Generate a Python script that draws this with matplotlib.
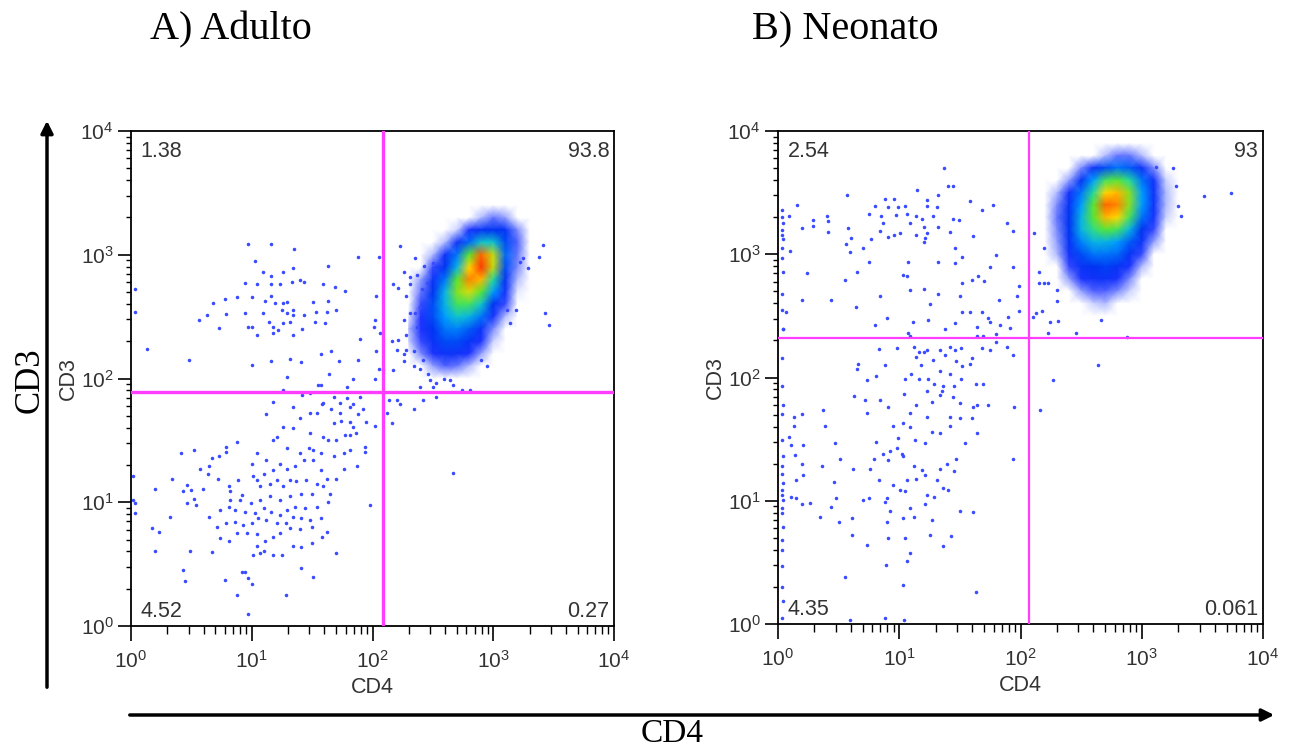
import numpy as np
import matplotlib
matplotlib.use('Agg')
import matplotlib.pyplot as plt
from matplotlib.colors import LinearSegmentedColormap
from matplotlib.patches import FancyArrowPatch

plt.rcParams['font.family'] = ['Liberation Sans', 'DejaVu Sans']

# ---------------- data ----------------
panel_titles = ['A) Adulto', 'B) Neonato']
axis_x_label = 'CD4'
axis_y_label = 'CD3'
# quadrant percentages: upper-left, upper-right, lower-left, lower-right
pct_adult = ['1.38', '93.8', '4.52', '0.27']
pct_neonate = ['2.54', '93', '4.35', '0.061']
# quadrant gates (CD4, CD3)
gate_adult = (122, 78)
gate_neonate = (117, 209)

# sparse events (log10 CD4, log10 CD3)
adult_events = [
    (0.97, 3.09), (1.16, 3.09), (1.35, 3.05), (1.03, 2.95), (1.34, 2.89), (1.63, 2.91), (1.88, 2.98), (2.05, 2.98),
    (1.09, 2.86), (1.16, 2.83), (1.26, 2.86), (0.94, 2.77), (1.04, 2.76), (1.16, 2.76), (1.23, 2.76), (1.33, 2.78),
    (1.40, 2.80), (1.43, 2.78), (1.59, 2.76), (1.69, 2.74), (1.77, 2.71), (0.88, 2.66), (1.00, 2.66), (1.11, 2.63),
    (1.16, 2.67), (1.19, 2.61), (1.26, 2.61), (1.29, 2.62), (1.51, 2.62), (1.63, 2.63), (0.68, 2.61), (0.78, 2.64),
    (0.94, 2.53), (1.09, 2.53), (1.25, 2.55), (1.29, 2.53), (1.34, 2.51), (1.34, 2.55), (1.43, 2.51), (1.53, 2.54),
    (1.62, 2.54), (1.70, 2.55), (0.56, 2.47), (0.63, 2.51), (0.79, 2.52), (0.73, 2.41), (0.97, 2.42), (1.00, 2.42),
    (1.14, 2.46), (1.18, 2.42), (1.22, 2.39), (1.26, 2.45), (1.32, 2.46), (1.42, 2.40), (1.52, 2.46), (1.61, 2.45),
    (1.04, 2.35), (1.18, 2.37), (1.34, 2.35), (0.13, 2.24), (0.48, 2.15), (1.00, 2.11), (1.16, 2.14), (1.32, 2.16),
    (1.41, 2.13), (1.57, 2.20), (1.66, 2.22), (1.72, 2.14), (1.88, 2.15), (2.02, 2.47), (2.01, 2.42), (1.90, 2.32),
    (2.06, 2.37), (2.03, 2.22), (2.05, 2.08), (2.09, 2.07), (2.02, 2.00), (1.84, 2.00), (1.79, 1.93), (1.64, 2.04),
    (1.55, 1.95), (1.29, 2.01), (1.26, 1.91), (2.03, 2.67),
    (2.23, 3.07), (2.35, 2.97), (2.43, 2.91), (2.50, 2.93), (2.26, 2.86), (2.31, 2.82), (2.37, 2.84), (2.31, 2.76),
    (2.17, 2.76), (2.21, 2.73), (2.28, 2.67), (2.41, 2.72), (2.45, 2.77), (2.31, 2.53), (2.26, 2.47), (2.35, 2.53),
    (2.39, 2.58), (2.37, 2.42), (2.28, 2.35), (2.21, 2.31), (2.16, 2.30), (2.20, 2.23), (2.26, 2.20), (2.28, 2.23),
    (2.34, 2.22), (2.26, 2.14), (2.17, 2.07), (2.34, 2.10), (2.39, 2.08), (2.42, 2.15), (2.48, 1.99), (2.53, 1.96),
    (2.59, 2.00), (2.64, 1.99), (2.67, 1.95), (2.74, 1.91), (2.53, 1.85), (2.42, 1.83), (2.34, 1.75), (2.23, 1.79),
    (2.20, 1.83), (2.14, 1.83), (2.12, 1.72), (2.16, 1.64), (2.50, 1.93), (2.39, 1.93), (2.46, 2.04), (2.67, 1.24),
    (3.41, 3.08), (3.38, 2.98), (3.29, 2.89), (3.43, 2.53), (3.46, 2.43), (3.25, 2.97), (3.22, 2.94), (3.14, 2.45),
    (3.19, 2.55), (3.11, 2.55), (2.95, 2.10), (2.90, 2.15), (2.81, 1.91),
    (1.42, 1.87), (1.48, 1.88), (1.57, 1.95), (1.68, 1.85), (1.59, 1.80), (1.34, 1.77), (1.18, 1.81), (1.12, 1.71),
    (1.40, 1.68), (1.48, 1.72), (1.54, 1.72), (1.58, 1.79), (1.66, 1.75), (1.73, 1.80), (1.79, 1.84), (1.81, 1.77),
    (1.84, 1.79), (1.90, 1.85), (1.92, 1.75), (1.88, 1.71), (1.73, 1.72), (1.68, 1.64), (1.74, 1.66), (1.81, 1.65),
    (1.84, 1.61), (1.95, 1.65), (2.02, 1.62), (1.86, 1.56), (1.81, 1.54), (1.77, 1.54), (1.70, 1.50), (1.63, 1.50),
    (1.59, 1.53), (1.48, 1.56), (1.47, 1.44), (1.34, 1.60), (1.26, 1.61), (1.21, 1.53), (1.18, 1.50), (1.29, 1.44),
    (1.40, 1.40), (1.51, 1.42), (1.57, 1.40), (1.68, 1.37), (1.76, 1.40), (1.81, 1.42), (1.94, 1.45), (1.94, 1.41),
    (1.76, 1.27), (1.87, 1.29), (1.70, 1.19), (1.62, 1.19), (1.57, 1.26), (1.51, 1.34), (1.43, 1.34), (1.36, 1.29),
    (1.29, 1.27), (1.23, 1.31), (1.18, 1.26), (1.12, 1.34), (1.04, 1.40), (1.00, 1.31), (0.88, 1.49), (0.79, 1.45),
    (0.79, 1.41), (0.67, 1.36), (0.73, 1.37), (0.52, 1.42), (0.41, 1.40), (0.64, 1.23), (0.57, 1.27), (0.65, 1.29),
    (0.34, 1.19), (0.20, 1.11), (0.46, 1.14), (0.43, 1.09), (0.50, 1.10), (0.60, 1.11), (0.72, 1.19), (0.81, 1.13),
    (0.82, 1.09), (0.89, 1.18), (0.92, 1.06), (1.01, 1.21), (1.04, 1.18), (1.07, 1.13), (1.10, 1.23), (1.15, 1.15),
    (1.21, 1.18), (1.26, 1.13), (1.32, 1.18), (1.37, 1.17), (1.45, 1.18), (1.54, 1.15), (1.59, 1.13), (1.65, 1.07),
    (1.50, 1.07), (1.41, 1.07), (1.32, 1.05), (1.23, 1.02), (1.15, 1.05), (1.07, 1.02), (0.99, 0.99), (0.90, 1.02),
    (0.82, 1.02), (0.74, 0.94), (0.81, 0.96), (0.86, 0.94), (0.94, 0.92), (1.03, 0.91), (1.10, 0.95), (1.16, 0.92),
    (1.23, 0.90), (1.29, 0.94), (1.36, 0.96), (1.44, 0.95), (1.54, 0.96), (1.63, 1.00), (1.98, 0.98), (1.57, 0.87),
    (1.48, 0.86), (1.41, 0.87), (1.34, 0.88), (1.28, 0.83), (1.21, 0.83), (1.12, 0.86), (1.05, 0.87), (1.00, 0.83),
    (0.93, 0.82), (0.86, 0.84), (0.79, 0.83), (0.71, 0.80), (0.65, 0.88), (0.54, 0.98), (0.52, 1.03), (0.46, 0.99),
    (0.32, 0.88), (0.17, 0.79), (0.23, 0.76), (0.88, 0.75), (0.96, 0.75), (1.04, 0.74), (1.11, 0.69), (1.18, 0.72),
    (1.23, 0.75), (1.32, 0.79), (1.40, 0.78), (1.50, 0.80), (1.58, 0.72), (1.62, 0.76), (0.74, 0.71), (0.81, 0.69),
    (1.04, 0.65), (1.10, 0.61), (1.01, 0.57), (1.07, 0.59), (1.18, 0.57), (1.25, 0.57), (1.34, 0.65), (1.41, 0.64),
    (1.50, 0.67), (1.70, 0.59), (0.67, 0.60), (0.49, 0.61), (0.20, 0.61), (0.43, 0.45), (0.45, 0.36), (0.78, 0.37),
    (0.92, 0.44), (0.94, 0.44), (0.97, 0.39), (1.00, 0.34), (0.88, 0.25), (1.28, 0.25), (1.41, 0.47), (1.51, 0.40),
    (0.97, 0.10), (0.02, 1.21), (0.03, 0.99), (0.03, 0.91), (0.02, 1.02), (0.03, 2.72), (0.03, 2.54),
]

neonate_events = [
    (1.37, 3.70), (0.57, 3.48), (0.16, 3.40), (1.15, 3.52), (1.40, 3.55), (1.44, 3.55), (1.32, 3.48), (0.88, 3.45),
    (0.96, 3.45), (1.23, 3.44), (0.80, 3.39), (0.91, 3.38), (0.99, 3.38), (1.05, 3.39), (1.23, 3.39), (1.31, 3.38),
    (1.58, 3.43), (1.68, 3.36), (1.77, 3.40), (0.75, 3.33), (0.85, 3.31), (0.97, 3.32), (1.06, 3.33), (1.14, 3.31),
    (1.19, 3.29), (1.28, 3.31), (1.44, 3.29), (1.49, 3.28), (0.29, 3.28), (0.40, 3.31), (0.41, 3.27), (0.09, 3.31),
    (0.20, 3.21), (0.29, 3.23), (0.41, 3.18), (0.87, 3.25), (1.09, 3.25), (1.20, 3.22), (1.32, 3.22), (0.84, 3.19),
    (0.91, 3.14), (0.96, 3.16), (1.01, 3.17), (1.14, 3.16), (1.23, 3.17), (1.42, 3.18), (1.89, 3.25), (1.61, 3.15),
    (1.94, 3.19), (0.58, 3.21), (0.60, 3.13), (0.56, 3.08), (0.70, 3.05), (0.77, 3.12), (1.20, 3.10), (1.21, 3.13),
    (1.46, 3.05), (1.52, 2.98), (0.10, 3.03), (0.59, 3.02), (0.75, 2.94), (1.07, 2.94), (1.32, 2.94), (1.46, 2.93),
    (1.75, 2.90), (1.80, 2.99), (1.94, 2.90), (0.65, 2.86), (1.03, 2.83), (1.06, 2.82), (0.24, 2.85), (0.55, 2.79),
    (1.20, 2.72), (1.09, 2.71), (1.52, 2.77), (1.60, 2.79), (1.65, 2.82), (1.70, 2.78), (1.32, 2.68), (1.50, 2.66),
    (1.82, 2.63), (1.97, 2.66), (1.99, 2.74), (0.20, 2.63), (0.44, 2.63), (0.84, 2.66), (1.25, 2.60), (1.52, 2.53),
    (1.58, 2.53), (1.68, 2.53), (1.73, 2.48), (1.75, 2.45), (1.90, 2.49), (1.99, 2.54), (0.64, 2.57), (0.90, 2.48),
    (0.80, 2.43), (1.11, 2.45), (1.24, 2.47), (1.46, 2.44), (1.38, 2.39), (1.64, 2.41), (1.83, 2.43), (1.80, 2.35),
    (1.91, 2.40), (1.07, 2.36), (1.09, 2.34), (1.64, 2.34), (1.69, 2.34), (0.07, 2.53), (0.04, 2.39),
    (2.10, 2.49), (2.13, 2.52), (2.18, 2.54), (2.24, 2.45), (2.31, 2.46), (2.23, 2.36), (2.46, 2.36), (2.66, 2.47),
    (2.88, 2.33), (2.11, 3.17), (2.19, 3.05), (2.15, 2.77), (2.19, 2.77), (2.23, 2.77), (2.15, 2.86), (2.30, 2.62),
    (2.30, 2.71), (3.51, 3.47), (3.74, 3.50), (3.26, 3.70), (3.30, 3.39), (3.32, 3.31), (3.28, 3.55), (3.12, 3.71),
    (0.83, 2.23), (0.98, 2.24), (0.66, 2.11), (0.65, 2.07), (0.88, 2.10), (1.12, 2.25), (1.16, 2.21), (1.20, 2.21),
    (1.23, 2.22), (1.14, 2.17), (1.18, 2.10), (1.28, 2.14), (1.34, 2.22), (1.38, 2.18), (1.42, 2.25), (1.46, 2.22),
    (1.51, 2.24), (1.47, 2.13), (1.52, 2.09), (1.58, 2.11), (1.60, 2.16), (1.68, 2.24), (1.75, 2.22), (1.80, 2.29),
    (1.89, 2.25), (1.94, 2.18), (1.34, 2.05), (1.42, 2.03), (0.73, 1.98), (0.81, 2.01), (1.05, 1.99), (1.10, 2.03),
    (1.16, 1.99), (1.24, 1.99), (1.29, 1.95), (1.23, 1.89), (1.36, 1.93), (1.45, 1.93), (1.51, 1.99), (1.63, 1.95),
    (1.69, 1.95), (1.64, 1.78), (0.63, 1.85), (0.72, 1.82), (0.84, 1.82), (0.91, 1.76), (1.04, 1.87), (1.14, 1.78),
    (1.27, 1.80), (1.34, 1.86), (1.35, 1.89), (1.44, 1.84), (1.50, 1.79), (1.61, 1.76), (1.73, 1.78), (1.95, 1.76),
    (2.16, 1.74), (2.27, 1.98), (2.64, 2.10), (0.73, 1.71), (1.09, 1.71), (1.23, 1.68), (1.42, 1.68), (1.50, 1.67),
    (1.60, 1.67), (1.42, 1.61), (1.34, 1.55), (1.27, 1.56), (1.21, 1.47), (1.13, 1.49), (1.09, 1.60), (1.03, 1.63),
    (0.95, 1.61), (0.99, 1.51), (1.54, 1.47), (1.64, 1.55), (1.94, 1.34), (1.47, 1.34), (1.39, 1.30), (1.45, 1.24),
    (1.34, 1.26), (1.31, 1.17), (1.21, 1.21), (1.19, 1.25), (1.12, 1.28), (1.14, 1.18), (1.06, 1.17), (1.02, 1.38),
    (1.03, 1.36), (0.98, 1.43), (0.92, 1.40), (0.87, 1.38), (0.91, 1.33), (0.79, 1.34), (0.81, 1.48), (0.62, 1.26),
    (0.76, 1.26), (0.83, 1.17), (0.95, 1.13), (1.01, 1.09), (1.05, 1.08), (0.90, 1.02), (0.88, 0.99), (0.75, 1.02),
    (0.70, 1.01), (0.48, 1.02), (0.46, 1.15), (0.47, 1.47), (0.51, 1.34), (0.36, 1.28), (0.37, 1.74), (0.39, 1.61),
    (0.20, 1.70), (0.13, 1.68), (0.13, 1.61), (0.09, 1.52), (0.11, 1.45), (0.21, 1.45), (0.14, 1.37), (0.20, 1.30),
    (0.21, 1.21), (0.15, 1.17), (0.11, 1.03), (0.15, 1.02), (0.20, 0.97), (0.26, 0.98), (0.44, 0.95), (0.35, 0.87),
    (0.50, 0.83), (0.61, 0.86), (0.61, 0.72), (0.73, 0.64), (0.90, 0.83), (0.92, 0.92), (1.03, 0.86), (1.09, 0.94),
    (1.12, 0.87), (1.21, 0.97), (1.27, 0.84), (1.29, 1.03), (1.23, 1.05), (1.36, 1.10), (1.40, 1.09), (1.43, 0.71),
    (1.36, 0.63), (1.25, 0.72), (1.05, 0.70), (0.91, 0.70), (1.09, 0.58), (1.06, 0.51), (0.89, 0.48), (0.55, 0.38),
    (1.03, 0.32), (1.63, 0.26), (1.50, 0.92), (1.61, 0.91), (0.88, 0.05), (1.04, 0.03), (0.59, 0.03),
    (0.03, 3.36), (0.03, 3.30), (0.04, 3.25), (0.03, 3.20), (0.03, 3.16), (0.04, 3.12), (0.03, 3.05), (0.03, 2.97),
    (0.04, 2.86), (0.03, 2.68), (0.03, 2.55), (0.04, 2.39), (0.03, 2.16), (0.03, 1.93), (0.04, 1.78), (0.03, 1.70),
    (0.03, 1.49), (0.04, 1.36), (0.03, 1.28), (0.03, 1.22), (0.04, 1.14), (0.03, 1.09), (0.03, 1.05), (0.04, 1.01),
    (0.03, 0.94), (0.03, 0.90), (0.04, 0.79), (0.03, 0.68), (0.03, 0.60), (0.03, 0.47), (0.03, 0.30), (0.04, 0.19),
    (0.03, 0.05),
]

# density of the main CD3+CD4+ population (level 0-6), read on a 0.1-decade vertex grid
adult_grid_cd4 = [2.3, 2.4, 2.5, 2.6, 2.7, 2.8, 2.9, 3.0, 3.1, 3.2, 3.3]
adult_grid_cd3 = [3.4, 3.3, 3.2, 3.1, 3.0, 2.9, 2.8, 2.7, 2.6, 2.5, 2.4, 2.3, 2.2, 2.1, 2.0]
adult_density = [
    [0, 0, 0, 0, 0, 0, 0, 0, 0, 0, 0],
    [0, 0, 0, 0, 0, 0, 0.3, 0.6, 0.4, 0, 0],
    [0, 0, 0, 0, 0.2, 1.0, 1.8, 2.0, 1.8, 0.5, 0],
    [0, 0, 0, 0.3, 1.4, 2.4, 3.2, 3.2, 2.2, 0.7, 0],
    [0, 0, 0.3, 1.4, 2.5, 4.0, 5.5, 4.5, 2.4, 0.6, 0],
    [0, 0, 0.8, 2.0, 3.0, 4.8, 5.8, 4.5, 2.2, 0.5, 0],
    [0, 0.4, 1.5, 2.5, 4.0, 5.3, 5.0, 3.5, 1.8, 0.3, 0],
    [0, 0.6, 2.0, 3.0, 4.2, 4.6, 4.0, 2.8, 1.3, 0.1, 0],
    [0, 0.8, 2.2, 3.0, 3.8, 3.8, 3.2, 2.0, 0.8, 0, 0],
    [0.1, 0.9, 2.2, 2.8, 3.2, 3.0, 2.5, 1.2, 0.3, 0, 0],
    [0.3, 1.0, 2.0, 2.5, 2.6, 2.3, 1.6, 0.5, 0, 0, 0],
    [0.2, 0.8, 1.6, 2.2, 2.2, 1.8, 1.0, 0.2, 0, 0, 0],
    [0, 0.5, 1.0, 1.5, 1.5, 1.0, 0.4, 0, 0, 0, 0],
    [0, 0, 0.4, 0.7, 0.6, 0.3, 0, 0, 0, 0, 0],
    [0, 0, 0, 0, 0, 0, 0, 0, 0, 0, 0],
]
neonate_grid_cd4 = [2.2, 2.3, 2.4, 2.5, 2.6, 2.7, 2.8, 2.9, 3.0, 3.1, 3.2, 3.3]
neonate_grid_cd3 = [3.9, 3.8, 3.7, 3.6, 3.5, 3.4, 3.3, 3.2, 3.1, 3.0, 2.9, 2.8, 2.7, 2.6, 2.5]
neonate_density = [
    [0, 0, 0, 0, 0, 0, 0, 0, 0, 0, 0, 0],
    [0, 0, 0, 0, 0, 0.3, 0.6, 0.6, 0.3, 0, 0, 0],
    [0, 0, 0, 0.5, 1.5, 2.2, 2.5, 2.3, 1.5, 0.5, 0, 0],
    [0, 0, 0.4, 1.8, 2.8, 3.8, 4.0, 3.5, 2.5, 1.3, 0.2, 0],
    [0, 0.3, 1.3, 2.5, 3.5, 4.8, 5.0, 4.2, 2.8, 1.5, 0.3, 0],
    [0, 0.5, 1.8, 2.8, 4.0, 5.5, 5.3, 4.2, 2.8, 1.5, 0.3, 0],
    [0, 0.6, 2.0, 3.0, 4.0, 5.0, 4.8, 3.8, 2.5, 1.2, 0.2, 0],
    [0, 0.5, 2.0, 3.0, 3.6, 4.0, 3.8, 3.0, 2.0, 0.8, 0, 0],
    [0, 0.4, 1.8, 2.6, 3.0, 3.0, 2.8, 2.3, 1.5, 0.4, 0, 0],
    [0, 0.3, 1.3, 2.2, 2.5, 2.5, 2.4, 1.8, 0.8, 0, 0, 0],
    [0, 0, 0.8, 1.6, 2.0, 2.1, 1.8, 1.0, 0.3, 0, 0, 0],
    [0, 0, 0.4, 1.0, 1.4, 1.5, 1.1, 0.5, 0, 0, 0, 0],
    [0, 0, 0, 0.4, 0.7, 0.7, 0.5, 0.2, 0, 0, 0, 0],
    [0, 0, 0, 0, 0.2, 0.3, 0, 0, 0, 0, 0, 0],
    [0, 0, 0, 0, 0, 0, 0, 0, 0, 0, 0, 0],
]

# ---------------- styling ----------------
density_cmap = LinearSegmentedColormap.from_list('facs', [
    (0.0, (1.00, 1.00, 1.00)),
    (0.35 / 6, (0.62, 0.67, 1.00)),
    (0.9 / 6, (0.12, 0.20, 1.00)),
    (2.0 / 6, (0.00, 0.20, 0.95)),
    (2.8 / 6, (0.00, 0.62, 1.00)),
    (3.4 / 6, (0.10, 0.85, 0.70)),
    (4.0 / 6, (0.35, 0.90, 0.20)),
    (4.8 / 6, (1.00, 0.85, 0.00)),
    (5.5 / 6, (1.00, 0.40, 0.00)),
    (1.0, (1.00, 0.10, 0.00)),
])
DOT = '#3a4cff'
GATE = '#ff3cff'
TXT = '#333333'

fig = plt.figure(figsize=(12.96, 7.51), dpi=100)
axA = fig.add_axes([131 / 1296, 1 - 626 / 751, 483 / 1296, 495 / 751])
axB = fig.add_axes([778 / 1296, 1 - 624 / 751, 485 / 1296, 493 / 751])

panels = [
    (axA, adult_events, adult_grid_cd4, adult_grid_cd3, adult_density, gate_adult, pct_adult, 2.4),
    (axB, neonate_events, neonate_grid_cd4, neonate_grid_cd3, neonate_density, gate_neonate, pct_neonate, 1.6),
]

for ax, events, gx, gy, dens, gate, pct, glw in panels:
    ax.set_xscale('log')
    ax.set_yscale('log')
    ax.set_xlim(1, 1e4)
    ax.set_ylim(1, 1e4)
    X, Y = np.meshgrid(10 ** np.array(gx), 10 ** np.array(gy))
    ax.pcolormesh(X, Y, np.array(dens), shading='gouraud', cmap=density_cmap,
                  vmin=0, vmax=6, zorder=1)
    ev = np.array(events)
    ax.scatter(10 ** ev[:, 0], 10 ** ev[:, 1], s=6.5, c=DOT, linewidths=0, zorder=2)
    ax.axvline(gate[0], color=GATE, lw=glw, zorder=3)
    ax.axhline(gate[1], color=GATE, lw=glw, zorder=3)
    for sp in ax.spines.values():
        sp.set_linewidth(1.3)
        sp.set_color('black')
    ax.tick_params(axis='x', which='major', direction='out', length=11, width=1.2,
                   labelsize=15, labelcolor=TXT, pad=6, top=False)
    ax.tick_params(axis='x', which='minor', direction='out', length=5.5, width=1.0, top=False)
    ax.tick_params(axis='y', which='major', direction='out', length=9.5, width=1.2,
                   labelsize=15, labelcolor=TXT, pad=3, right=False)
    ax.tick_params(axis='y', which='minor', direction='out', length=3.6, width=1.0, right=False)
    ax.set_xlabel(axis_x_label, fontsize=15.5, color=TXT, labelpad=4)
    ax.set_ylabel(axis_y_label, fontsize=15.5, color=TXT, labelpad=1)
    tk = dict(fontsize=15.5, color=TXT, transform=ax.transAxes, va='center', zorder=4)
    ax.text(0.02, 0.958, pct[0], ha='left', **tk)
    ax.text(0.99, 0.958, pct[1], ha='right', **tk)
    ax.text(0.02, 0.03, pct[2], ha='left', **tk)
    ax.text(0.99, 0.03, pct[3], ha='right', **tk)

serif = ['Liberation Serif', 'DejaVu Serif']
fig.text(150 / 1296, 1 - 30 / 751, panel_titles[0], family=serif, fontsize=29,
         ha='left', va='center')
fig.text(752 / 1296, 1 - 30 / 751, panel_titles[1], family=serif, fontsize=29,
         ha='left', va='center')
fig.text(30 / 1296, 1 - 380 / 751, axis_y_label, family=serif, fontsize=25,
         rotation=90, ha='center', va='center')
fig.text(672 / 1296, 1 - 734 / 751, axis_x_label, family=serif, fontsize=24,
         ha='center', va='center')

fig.add_artist(FancyArrowPatch((47 / 1296, 1 - 690 / 751), (47 / 1296, 1 - 118 / 751),
                               transform=fig.transFigure, arrowstyle='-|>',
                               mutation_scale=18, lw=2.5, color='black'))
fig.add_artist(FancyArrowPatch((127 / 1296, 1 - 715 / 751), (1277 / 1296, 1 - 715 / 751),
                               transform=fig.transFigure, arrowstyle='-|>',
                               mutation_scale=18, lw=2.5, color='black'))

fig.savefig('out.png', dpi=100)
